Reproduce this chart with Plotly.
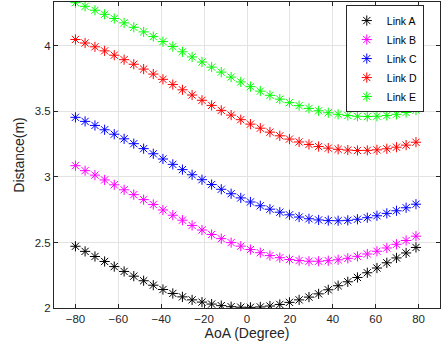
import plotly.graph_objects as go

aoa = [-80.0, -75.5, -70.9, -66.4, -61.9, -57.3, -52.8, -48.2, -43.7, -39.2,
       -34.6, -30.1, -25.6, -21.0, -16.5, -12.0, -7.4, -2.9, 1.6, 6.2,
       10.7, 15.3, 19.8, 24.3, 28.9, 33.4, 37.9, 42.5, 47.0, 51.5,
       56.1, 60.6, 65.2, 69.7, 74.2, 78.8]

link_a = [2.471, 2.432, 2.393, 2.355, 2.316, 2.279, 2.243, 2.208, 2.174, 2.141,
          2.111, 2.085, 2.062, 2.045, 2.030, 2.018, 2.010, 2.006, 2.005, 2.008,
          2.015, 2.027, 2.043, 2.062, 2.083, 2.108, 2.139, 2.170, 2.200, 2.233,
          2.269, 2.305, 2.345, 2.382, 2.420, 2.462]

link_b = [3.086, 3.048, 3.014, 2.977, 2.940, 2.902, 2.865, 2.827, 2.790, 2.748,
          2.708, 2.670, 2.630, 2.595, 2.561, 2.529, 2.499, 2.472, 2.446, 2.422,
          2.400, 2.384, 2.370, 2.362, 2.357, 2.357, 2.361, 2.368, 2.379, 2.394,
          2.412, 2.433, 2.458, 2.486, 2.515, 2.548]

link_c = [3.455, 3.424, 3.393, 3.360, 3.326, 3.291, 3.254, 3.216, 3.177, 3.137,
          3.096, 3.056, 3.017, 2.979, 2.942, 2.906, 2.872, 2.840, 2.809, 2.780,
          2.754, 2.731, 2.711, 2.694, 2.681, 2.672, 2.667, 2.666, 2.669, 2.677,
          2.689, 2.704, 2.722, 2.742, 2.765, 2.792]

link_d = [4.049, 4.022, 3.993, 3.962, 3.929, 3.895, 3.860, 3.823, 3.785, 3.745,
          3.705, 3.665, 3.625, 3.585, 3.546, 3.508, 3.472, 3.437, 3.403, 3.372,
          3.342, 3.314, 3.289, 3.267, 3.248, 3.232, 3.220, 3.211, 3.205, 3.202,
          3.203, 3.207, 3.215, 3.227, 3.243, 3.265]

link_e = [4.330, 4.302, 4.272, 4.241, 4.209, 4.176, 4.142, 4.107, 4.071, 4.033,
          3.995, 3.955, 3.916, 3.877, 3.838, 3.800, 3.762, 3.725, 3.689, 3.655,
          3.623, 3.594, 3.567, 3.544, 3.523, 3.505, 3.490, 3.478, 3.469, 3.463,
          3.461, 3.463, 3.469, 3.478, 3.492, 3.510]

series_names = ["Link A", "Link B", "Link C", "Link D", "Link E"]
series_values = [link_a, link_b, link_c, link_d, link_e]
series_colors = ["#000000", "#ff00ff", "#0000ff", "#ff0000", "#00ff00"]

x_ticks = [-80, -60, -40, -20, 0, 20, 40, 60, 80]
y_ticks = [2, 2.5, 3, 3.5, 4]
y_tick_labels = ["2", "2.5", "3", "3.5", "4"]

FONT = "Liberation Sans, Arial, Helvetica, sans-serif"
AX = "#262626"

fig = go.Figure()
for name, vals, col in zip(series_names, series_values, series_colors):
    fig.add_trace(go.Scatter(
        x=aoa, y=vals, mode="markers", name=name,
        marker=dict(symbol="asterisk-open", size=8.5, color=col,
                    line=dict(color=col, width=1)),
    ))

axis_common = dict(
    showline=True, linecolor=AX, linewidth=1, mirror="ticks",
    ticks="inside", ticklen=4, tickcolor=AX, tickwidth=1,
    showgrid=True, gridcolor="#e3e3e3", gridwidth=1, zeroline=False,
    tickfont=dict(family=FONT, size=11.5, color=AX),
)

fig.update_layout(
    width=441, height=353,
    margin=dict(l=54, r=1, t=2, b=45),
    paper_bgcolor="white", plot_bgcolor="white",
    font=dict(family=FONT, color=AX),
    xaxis=dict(range=[-90, 90], tickvals=x_ticks,
               title=dict(text="AoA (Degree)", font=dict(family=FONT, size=14, color=AX), standoff=2),
               **axis_common),
    yaxis=dict(range=[2, 4.335], tickvals=y_ticks, ticktext=y_tick_labels,
               title=dict(text="Distance(m)", font=dict(family=FONT, size=14, color=AX), standoff=6),
               **axis_common),
    legend=dict(x=0.958, y=0.99, xanchor="right", yanchor="top",
                bgcolor="white", bordercolor=AX, borderwidth=1,
                font=dict(family=FONT, size=10.5, color="#000000"),
                tracegroupgap=0),
    showlegend=True,
)

fig.write_html("out.html", config={"displayModeBar": False},
               post_script="document.body.style.margin='0';document.body.style.overflow='hidden';")
